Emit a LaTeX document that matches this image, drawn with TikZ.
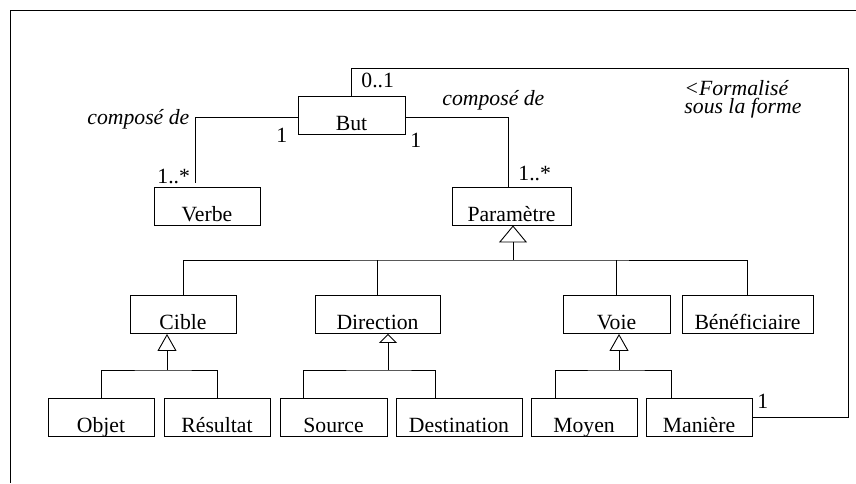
\documentclass[tikz,border=0pt]{standalone}
\usepackage{fontspec}
\setmainfont{Liberation Serif}
\usetikzlibrary{calc}
\usetikzlibrary{arrows.meta}

\tikzset{
    classe/.style={draw, rectangle, inner xsep=0pt, inner ysep=0pt,
        text height=34pt, text depth=4pt, minimum height=38pt,
        font=\fontsize{21.7}{24}\selectfont},
    role/.style={inner sep=0pt, font=\fontsize{21.7}{24}\selectfont\itshape},
    mult/.style={inner sep=0pt, font=\fontsize{21.7}{24}\selectfont},
    herit/.style={-{Triangle[open,length=17pt,width=19pt]}}
}

\begin{document}
\begin{tikzpicture}[x=1pt,y=-1pt,line width=0.9pt]
    \useasboundingbox (0,0) rectangle (856,483);

    % Frame
    \draw (856,10) -- (10,10) -- (10,483);

    % Classes
    \node[classe, minimum width=107pt] (but) at (351.5,115) {But};
    \node[classe, minimum width=106pt] (verbe) at (207,206) {Verbe};
    \node[classe, minimum width=119pt] (parametre) at (511.5,206) {Paramètre};

    \node[classe, minimum width=106pt] (cible) at (183,314.5) {Cible};
    \node[classe, minimum width=125pt] (direction) at (377.5,314.5) {Direction};
    \node[classe, minimum width=107pt] (voie) at (616.5,314.5) {Voie};
    \node[classe, minimum width=131pt] (beneficiaire) at (747.5,314.5) {Bénéficiaire};

    \node[classe, minimum width=106pt] (objet) at (101,417.5) {Objet};
    \node[classe, minimum width=106pt] (resultat) at (217,417.5) {Résultat};
    \node[classe, minimum width=107pt] (source) at (333.5,417.5) {Source};
    \node[classe, minimum width=126pt] (destination) at (459,417.5) {Destination};
    \node[classe, minimum width=106pt] (moyen) at (584,417.5) {Moyen};
    \node[classe, minimum width=106pt] (maniere) at (699,417.5) {Manière};

    % Associations
    \draw ($(but.south west)+(0,-17)$) -| ($(verbe.north)+(-12,-4)$);
    \draw ($(but.south east)+(0,-17)$) -| ($(parametre.north)+(-3,0)$);

    \coordinate (cforme) at (848,68);
    \draw (but.north) |- (cforme) |- (maniere.east);

    % Roles and multiplicities
    \node[role, anchor=base west] (rverbe) at (87,124) {composé de};
    \node[role, anchor=base west] (rparam) at (442,105) {composé de};
    \node[role, anchor=base west, align=left,
          font=\fontsize{21.7}{18}\selectfont\itshape] (rforme) at (684,113)
          {<Formalisé\\sous la forme};

    \node[mult, anchor=base west] (m1) at (276,142) {1};
    \node[mult, anchor=base west] (m2) at (157,183) {1..*};
    \node[mult, anchor=base west] (m3) at (410,147) {1};
    \node[mult, anchor=base west] (m4) at (518,180) {1..*};
    \node[mult, anchor=base west] (m5) at (361,87) {0..1};
    \node[mult, anchor=base west] (m6) at (757,408) {1};

    % Generalisation of Parametre
    \coordinate (jparam) at (513,260);
    \draw (cible.north) |- (jparam) -| (beneficiaire.north);
    \draw (direction.north) -- (direction.north |- jparam);
    \draw (voie.north) -- (voie.north |- jparam);
    \draw[-{Triangle[open,length=17pt,width=28pt]}] (jparam) -- (jparam |- parametre.south);

    % Generalisation of Cible
    \coordinate (jcible) at (167,370);
    \draw (objet.north) |- (jcible) -| (resultat.north);
    \draw[herit] (jcible) -- (jcible |- cible.south);

    % Generalisation of Direction
    \coordinate (jdir) at (388,370);
    \draw ($(source.north)+(-30,0)$) |- (jdir) -| ($(destination.north)+(-24,0)$);
    \draw[-{Triangle[open,length=9pt,width=18pt]}] (jdir) -- (jdir |- direction.south);

    % Generalisation of Voie
    \coordinate (jvoie) at (619,370);
    \draw ($(moyen.north)+(-29,0)$) |- (jvoie) -| ($(maniere.north)+(-28,0)$);
    \draw[herit] (jvoie) -- (jvoie |- voie.south);

\end{tikzpicture}
\end{document}
